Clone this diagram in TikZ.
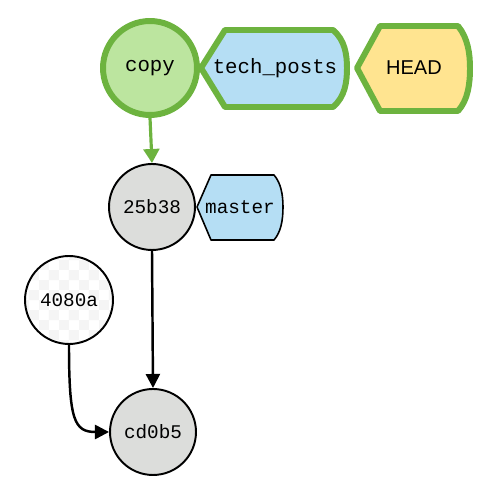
\documentclass[tikz,border=0pt]{standalone}
\usepackage{fontspec}
\newfontfamily\refmono{Liberation Mono}
\newfontfamily\refsans{Liberation Sans}
\usetikzlibrary{arrows.meta,patterns}
\definecolor{gitgreen}{HTML}{6DB33F}
\definecolor{copyfill}{HTML}{BCE59F}
\definecolor{branchblue}{HTML}{B5DEF4}
\definecolor{headyellow}{HTML}{FFE490}
\definecolor{commitgray}{HTML}{DCDDDB}
\tikzset{
  commit/.style={circle,draw=black,line width=1.1pt,fill=commitgray,minimum size=1.72cm,inner sep=0pt,
    font=\refmono\fontsize{11}{13}\selectfont},
  parent/.style={draw=black,line width=1.4pt,-{Triangle[length=8pt,width=8pt]}},
}

\begin{document}
\begin{tikzpicture}[x=0.02cm,y=-0.02cm]
\useasboundingbox (0,0) rectangle (491,489);
% current commit, checked out branch and HEAD
\node[commit,draw=gitgreen,line width=3.4pt,fill=copyfill,minimum size=1.88cm,
  font=\refmono\fontsize{11.8}{14}\selectfont] (copy) at (150,68) {copy};
\filldraw[gitgreen,line width=3.4pt,fill=branchblue,line join=round]
  (201,68) -- (225,30) -- (333,30) .. controls (345,40) and (347,55) .. (347,68)
  .. controls (347,82) and (345,97) .. (333,107) -- (225,107) -- cycle;
\node[font=\refmono\fontsize{11.8}{14}\selectfont] (techposts) at (275,68) {tech\_posts};
\filldraw[gitgreen,line width=3.4pt,fill=headyellow,line join=round]
  (357,68) -- (380,26) -- (458,26) .. controls (468,38) and (470,54) .. (470,68)
  .. controls (470,84) and (468,100) .. (458,111) -- (380,111) -- cycle;
\node[font=\refsans\fontsize{11.4}{14}\selectfont] (head) at (414,68) {HEAD};
% other commits
\node[commit] (c25b38) at (152,207) {25b38};
\filldraw[black,line width=0.9pt,fill=branchblue,line join=round]
  (197,207) -- (211,175) -- (274,175) .. controls (281,183) and (283,195) .. (283,207)
  .. controls (283,220) and (281,232) .. (274,240) -- (211,240) -- cycle;
\node[font=\refmono\fontsize{11}{13}\selectfont] (master) at (240,207) {master};
\node[commit,minimum size=1.76cm,preaction={fill=white},
  pattern=checkerboard,pattern color=gray!8] (c4080a) at (69,300) {4080a};
\node[commit] (cd0b5) at (153,432) {cd0b5};
% parent links
\draw[gitgreen,line width=1.8pt,-{Triangle[length=8pt,width=9pt]}] (copy.south) -- (c25b38.north);
\draw[parent] (c25b38.south) -- (cd0b5.north);
\draw[parent] (c4080a.south) .. controls +(0,75) and +(-35,0) .. (cd0b5.west);
\end{tikzpicture}
\end{document}
